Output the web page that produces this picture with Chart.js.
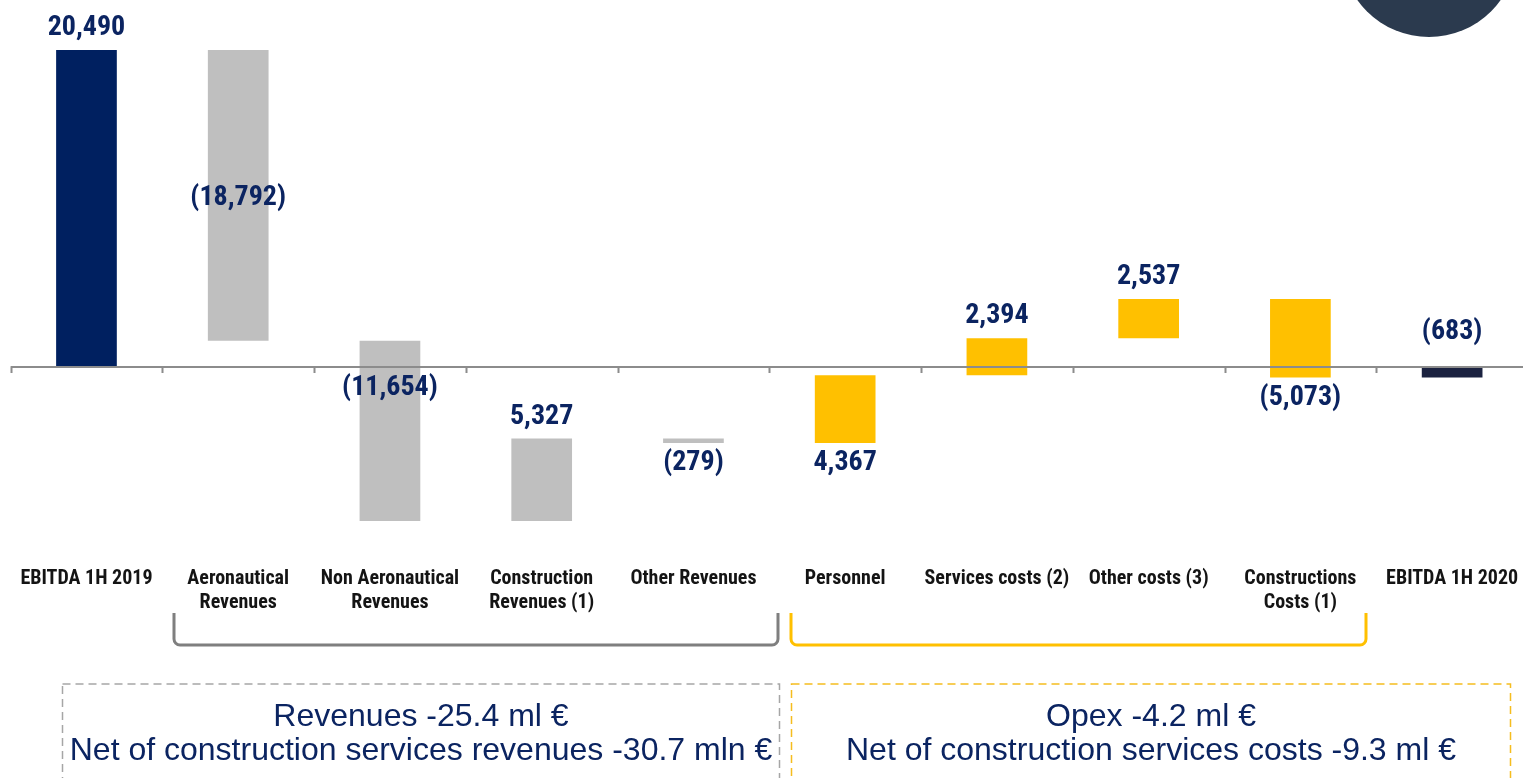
<!DOCTYPE html>
<html>
<head>
<meta charset="utf-8">
<script src="https://cdn.jsdelivr.net/npm/chart.js@4.4.1/dist/chart.umd.min.js"></script>
<style>
  html, body { margin: 0; padding: 0; background: #fff; overflow: hidden; }
  #wrap { width: 1528px; height: 778px; }
  canvas { display: block; width: 1528px !important; height: 778px !important; }
</style>
</head>
<body>
<div id="wrap"><canvas id="bridge" width="1528" height="778"></canvas></div>
<script>
// EBITDA bridge 1H 2019 -> 1H 2020 (k€)

const CATEGORIES = [
  ['EBITDA 1H 2019'],
  ['Aeronautical', 'Revenues'],
  ['Non Aeronautical', 'Revenues'],
  ['Construction', 'Revenues (1)'],
  ['Other Revenues'],
  ['Personnel'],
  ['Services costs (2)'],
  ['Other costs (3)'],
  ['Constructions', 'Costs (1)'],
  ['EBITDA 1H 2020'],
];
const START_VALUE = 20490;
const DELTAS = [-18792, -11654, 5327, -279, 4367, 2394, 2537, -5073];
const END_VALUE = -683;
const GROUPS = ['start', 'rev', 'rev', 'rev', 'rev', 'opex', 'opex', 'opex', 'opex', 'end'];
// where each value label sits relative to its bar
const LABEL_PLACE = ['above', 'middle', 'inside', 'above', 'below', 'below', 'above', 'above', 'below', 'high'];

const Y_MIN = -11958;
const Y_MAX = 21976;

const BOX_TEXT_REV = ['Revenues -25.4 ml €', 'Net of construction services revenues -30.7 mln €'];
const BOX_TEXT_OPEX = ['Opex -4.2 ml €', 'Net of construction services costs -9.3 ml €'];

const COLORS = { start: '#002060', rev: '#bfbfbf', opex: '#ffc000', end: '#1b2240' };
const NAVY = '#0b2461';
const NARROW = '"Liberation Sans Narrow", "Arial Narrow", "Roboto Condensed", Arial, sans-serif';
const SANS = '"Liberation Sans", Arial, sans-serif';

// floating bars from running total
const ranges = [];
const shown = [];
ranges.push([0, START_VALUE]);
shown.push(START_VALUE);
let cum = START_VALUE;
for (const d of DELTAS) {
  ranges.push([cum, cum + d]);
  shown.push(d);
  cum += d;
}
ranges.push([0, END_VALUE]);
shown.push(END_VALUE);

function fmt(v) {
  const s = Math.abs(v).toLocaleString('en-US');
  return v < 0 ? `(${s})` : s;
}

const decor = {
  id: 'decor',
  beforeDraw(chart) {
    const ctx = chart.ctx;
    // corner badge
    ctx.save();
    ctx.fillStyle = '#2b3a4e';
    ctx.beginPath();
    ctx.arc(1429, -51, 88, 0, Math.PI * 2);
    ctx.fill();
    ctx.restore();
  },
  afterDatasetsDraw(chart) {
    const ctx = chart.ctx;
    const x = chart.scales.x, y = chart.scales.y;
    const area = chart.chartArea;
    const y0 = y.getPixelForValue(0);
    const cw = x.getPixelForValue(1) - x.getPixelForValue(0);

    // zero axis + tick marks between categories
    ctx.save();
    ctx.strokeStyle = '#8c8c8c';
    ctx.lineWidth = 2;
    ctx.beginPath();
    ctx.moveTo(area.left, y0);
    ctx.lineTo(area.right, y0);
    for (let i = 0; i <= CATEGORIES.length; i++) {
      const bx = Math.round(x.getPixelForValue(i) - cw / 2) + 0.5;
      ctx.moveTo(bx, y0);
      ctx.lineTo(bx, y0 + 6);
    }
    ctx.stroke();
    ctx.restore();

    // value labels
    const meta = chart.getDatasetMeta(0);
    ctx.save();
    ctx.fillStyle = NAVY;
    ctx.font = `bold 28px ${NARROW}`;
    ctx.textAlign = 'center';
    ctx.textBaseline = 'middle';
    meta.data.forEach((bar, i) => {
      const top = Math.min(bar.y, bar.base);
      const bot = Math.max(bar.y, bar.base);
      let ly;
      switch (LABEL_PLACE[i]) {
        case 'above': ly = top - 22; break;
        case 'high': ly = top - 35; break;
        case 'below': ly = bot + 20; break;
        case 'inside': ly = top + 47; break;
        default: ly = (top + bot) / 2 + 3;
      }
      ctx.fillText(fmt(shown[i]), bar.x, ly);
    });
    ctx.restore();

    // brackets under the category labels
    function bracket(x1, x2, color) {
      const yt = 613, yb = 645, r = 6;
      ctx.save();
      ctx.strokeStyle = color;
      ctx.lineWidth = 3;
      ctx.beginPath();
      ctx.moveTo(x1, yt);
      ctx.lineTo(x1, yb - r);
      ctx.arcTo(x1, yb, x1 + r, yb, r);
      ctx.lineTo(x2 - r, yb);
      ctx.arcTo(x2, yb, x2, yb - r, r);
      ctx.lineTo(x2, yt);
      ctx.stroke();
      ctx.restore();
    }
    bracket(174, 778, '#7f7f7f');
    bracket(791, 1366, '#ffc000');

    // dashed summary boxes
    function box(x1, x2, color, lines) {
      ctx.save();
      ctx.strokeStyle = color;
      ctx.lineWidth = 1.5;
      ctx.setLineDash([8, 5]);
      ctx.strokeRect(x1, 684, x2 - x1, 120);
      ctx.setLineDash([]);
      ctx.fillStyle = NAVY;
      ctx.font = `32px ${SANS}`;
      ctx.textAlign = 'center';
      ctx.textBaseline = 'middle';
      ctx.fillText(lines[0], (x1 + x2) / 2, 717);
      ctx.fillText(lines[1], (x1 + x2) / 2, 751);
      ctx.restore();
    }
    box(62.5, 779.5, '#a6a6a6', BOX_TEXT_REV);
    box(791.5, 1510.5, '#f5bd1f', BOX_TEXT_OPEX);
  },
};

new Chart(document.getElementById('bridge'), {
  type: 'bar',
  data: {
    labels: CATEGORIES,
    datasets: [{
      data: ranges,
      backgroundColor: GROUPS.map(g => COLORS[g]),
      borderWidth: 0,
      barPercentage: 0.4,
      categoryPercentage: 1.0,
    }],
  },
  options: {
    responsive: false,
    animation: false,
    layout: { padding: { top: 27, left: 10.6, right: 0, bottom: 0 } },
    plugins: { legend: { display: false }, tooltip: { enabled: false } },
    scales: {
      x: {
        grid: { display: false, drawTicks: false },
        border: { display: false },
        ticks: {
          color: '#141414',
          font: { family: NARROW, size: 20, weight: 'bold', lineHeight: 1.2 },
          padding: 15,
          maxRotation: 0,
          autoSkip: false,
        },
        afterFit: (s) => {
          s.height = 226;
          s.paddingLeft = 0;
          s.paddingRight = 0;
        },
      },
      y: { display: false, min: Y_MIN, max: Y_MAX },
    },
  },
  plugins: [decor],
});
</script>
</body>
</html>
